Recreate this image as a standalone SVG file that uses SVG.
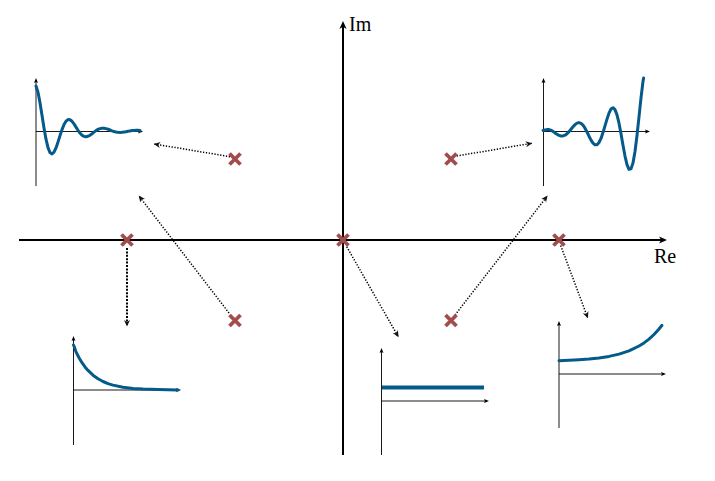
<svg xmlns="http://www.w3.org/2000/svg" width="715" height="481" viewBox="0 0 715 481">
<defs>
<style>
.ax{stroke:#000;stroke-width:2;fill:none}
.iax{stroke:#000;stroke-width:0.9;fill:none}
.crv{stroke:#035a8b;stroke-width:3;fill:none;stroke-linejoin:round;stroke-linecap:round}
.pole{stroke:#a24d4d;stroke-width:3.8;fill:none}
.con{stroke:#000;stroke-width:1.5;stroke-dasharray:1.3 1.6;fill:none}
.lbl{font-family:"Liberation Serif","DejaVu Serif",serif;font-size:20px;fill:#000}
</style>
<marker id="ah" markerUnits="userSpaceOnUse" markerWidth="12" markerHeight="12" refX="0" refY="0" orient="auto" overflow="visible">
<path d="M3,0 L-5,-3.6 L-2.8,0 L-5,3.6 Z" fill="#000"/>
</marker>
<marker id="sah" markerUnits="userSpaceOnUse" markerWidth="8" markerHeight="8" refX="0" refY="0" orient="auto" overflow="visible">
<path d="M2,0 L-3,-2 L-2,0 L-3,2 Z" fill="#000"/>
</marker>
<marker id="cah" markerUnits="userSpaceOnUse" markerWidth="10" markerHeight="10" refX="0" refY="0" orient="auto" overflow="visible">
<path d="M0.5,0 L-6,-3 L-4,0 L-6,3 Z" fill="#111"/>
</marker>
<path id="x" d="M-5.5,-5.5 L5.5,5.5 M-5.5,5.5 L5.5,-5.5"/>
</defs>
<rect width="715" height="481" fill="#fff"/>

<g id="axes">
<path class="ax" d="M19,240 H664" marker-end="url(#ah)"/>
<path class="ax" d="M343,455 V24" marker-end="url(#ah)"/>
<text class="lbl" x="349" y="31">Im</text>
<text class="lbl" x="654" y="263">Re</text>
</g>

<g id="connectors">
<path class="con" d="M230,156.7 L154.3,144" marker-end="url(#cah)"/>
<path class="con" d="M229,313 L139,196" marker-end="url(#cah)"/>
<path class="con" d="M127,248 L127,326" style="stroke-width:2;stroke-dasharray:2 1.4" marker-end="url(#cah)"/>
<path class="con" d="M346.7,246.7 L398.3,336.7" marker-end="url(#cah)"/>
<path class="con" d="M456.7,156 L531.7,143.3" marker-end="url(#cah)"/>
<path class="con" d="M455,315 L547.3,196" marker-end="url(#cah)"/>
<path class="con" d="M560.7,245.5 L587.7,317.7" marker-end="url(#cah)"/>
</g>

<g id="pole-lhp-upper"><use href="#x" class="pole" x="235" y="159"/></g>
<g id="pole-lhp-lower"><use href="#x" class="pole" x="235" y="320.5"/></g>
<g id="pole-lhp-real"><use href="#x" class="pole" x="127" y="240"/></g>
<g id="pole-origin"><use href="#x" class="pole" x="343" y="240"/></g>
<g id="pole-rhp-upper"><use href="#x" class="pole" x="451" y="159"/></g>
<g id="pole-rhp-lower"><use href="#x" class="pole" x="451" y="320.5"/></g>
<g id="pole-rhp-real"><use href="#x" class="pole" x="559" y="240"/></g>

<g id="inset-damped-osc">
<path class="iax" d="M36,186 V80" marker-end="url(#sah)"/>
<path class="iax" d="M36,131.5 H141" marker-end="url(#sah)"/>
<polyline class="crv" points="36,86 38,92.3 40,102.8 42,115.3 44,128 46,139.2 48,147.6 50,152.6 52,154 54,152.2 56,147.9 58,142 60,135.6 62,129.6 64,124.6 66,121.2 68,119.6 70,119.8 72,121.3 74,123.9 76,127.1 78,130.3 80,133 82,135.2 84,136.4 86,136.8 88,136.3 90,135.2 92,133.8 94,132.1 96,130.6 98,129.4 100,128.6 102,128.2 104,128.2 106,128.6 108,129.2 110,130 112,130.8 114,131.5 116,132 118,132.3 120,132.4 122,132.3 124,132.1 126,131.7 128,131.3 130,130.9 132,130.6 134,130.4 136,130.3 138,130.3 140,130.4"/>
</g>

<g id="inset-growing-osc">
<path class="iax" d="M543.5,186 V80" marker-end="url(#sah)"/>
<path class="iax" d="M543.5,131.5 H648" marker-end="url(#sah)"/>
<polyline class="crv" points="543,130.5 545,130 547,129.6 549,129.6 551,130.2 553,131.4 555,132.9 557,134.3 559,135.4 561,136 563,135.9 565,135.2 567,133.7 569,131.6 571,129.2 573,126.7 575,124.6 577,123.1 579,122.6 581,123.3 583,125.2 585,128.2 587,132 589,136.2 591,140.1 593,143.1 595,144.8 597,144.7 599,142.5 601,138.4 603,132.6 605,125.9 607,119.1 609,113.1 611,109 613,107.7 615,109.6 617,114.9 619,123.2 621,133.8 623,145.3 625,156.1 627,164.6 629,169.3 631,168.9 633,162.9 635,151.5 637,135.5 639,116.8 641,97.9 643,81.4 643.6,78"/>
</g>

<g id="inset-decay">
<path class="iax" d="M73.5,445 V338" marker-end="url(#sah)"/>
<path class="iax" d="M73.5,390 H179" marker-end="url(#sah)"/>
<polyline class="crv" points="73.5,345 74.5,347.4 76,351.9 79,357.8 82,362.7 85,366.9 88,370.4 93,375.2 98,378.8 103,381.5 108,383.6 113,385.1 123,387.2 133,388.4 143,389.1 158,389.6 178,389.9"/>
</g>

<g id="inset-constant">
<path class="iax" d="M381.5,455 V350" marker-end="url(#sah)"/>
<path class="iax" d="M381.5,401 H487" marker-end="url(#sah)"/>
<path d="M382,387.5 H484" stroke="#035a8b" stroke-width="4" fill="none"/>
</g>

<g id="inset-growth">
<path class="iax" d="M559,428 V323" marker-end="url(#sah)"/>
<path class="iax" d="M559,374 H664" marker-end="url(#sah)"/>
<polyline class="crv" points="559,360.7 569,360.3 579,359.8 589,359.1 599,358 609,356.4 619,354.1 629,350.8 639,346 644,342.9 649,339.1 654,334.5 659,329 662,325.3"/>
</g>
</svg>
